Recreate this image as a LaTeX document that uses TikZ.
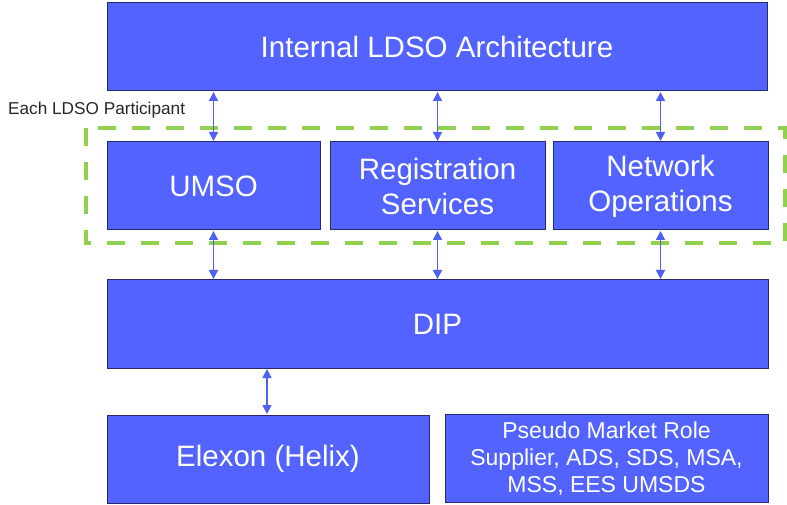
\documentclass[tikz,border=0pt]{standalone}
\usepackage{fontspec}
\setmainfont{Liberation Sans}
\usetikzlibrary{arrows.meta}
\definecolor{boxblue}{HTML}{5263FF}
\definecolor{boxedge}{HTML}{262A6A}
\definecolor{arrblue}{HTML}{5060F0}
\definecolor{dashgreen}{HTML}{92D050}
\begin{document}
\begin{tikzpicture}[x=1pt,y=1pt,
  blk/.style={draw=boxedge,line width=1pt,fill=boxblue,text=white,inner sep=0pt,
    align=center,minimum height=88pt,font=\fontsize{29.5}{35}\selectfont},
  link/.style={draw=arrblue,line width=1.5pt,{Triangle[length=9pt,width=9pt]}-{Triangle[length=9pt,width=9pt]},shorten <=0.5pt,shorten >=0.5pt}]
\useasboundingbox (0,0) rectangle (787,504);
\node[blk,minimum width=660pt] (top) at (437,457) {Internal LDSO Architecture};
\node[blk,minimum width=213pt] (umso) at (213.5,318) {UMSO};
\node[blk,minimum width=215pt] (reg) at (437.5,318) {Registration\\Services};
\node[blk,minimum width=215pt] (net) at (660.5,318) {Network\\Operations};
\node[blk,minimum width=661pt] (dip) at (437.5,180) {DIP};
\node[blk,minimum width=322pt] (elx) at (268,45) {Elexon (Helix)};
\node[blk,minimum width=323pt,font=\fontsize{23}{27}\selectfont] (pmr) at (606.5,45.5) {Pseudo Market Role\\Supplier, ADS, SDS, MSA,\\MSS, EES UMSDS};
\draw[dashgreen,line width=4pt,dash pattern=on 18pt off 16pt] (86,376) rectangle (785,261);
\node[anchor=west,inner sep=0pt,font=\fontsize{17.2}{20}\selectfont,text=black!85] (lbl) at (8,394) {Each LDSO Participant};
\draw[link] (umso.north |- top.south) -- (umso.north);
\draw[link] (reg.north |- top.south) -- (reg.north);
\draw[link] (net.north |- top.south) -- (net.north);
\draw[link] (umso.south) -- (umso.south |- dip.north);
\draw[link] (reg.south) -- (reg.south |- dip.north);
\draw[link] (net.south) -- (net.south |- dip.north);
\draw[link] ([xshift=-1pt]elx.north |- dip.south) -- ([xshift=-1pt]elx.north);
\end{tikzpicture}
\end{document}
